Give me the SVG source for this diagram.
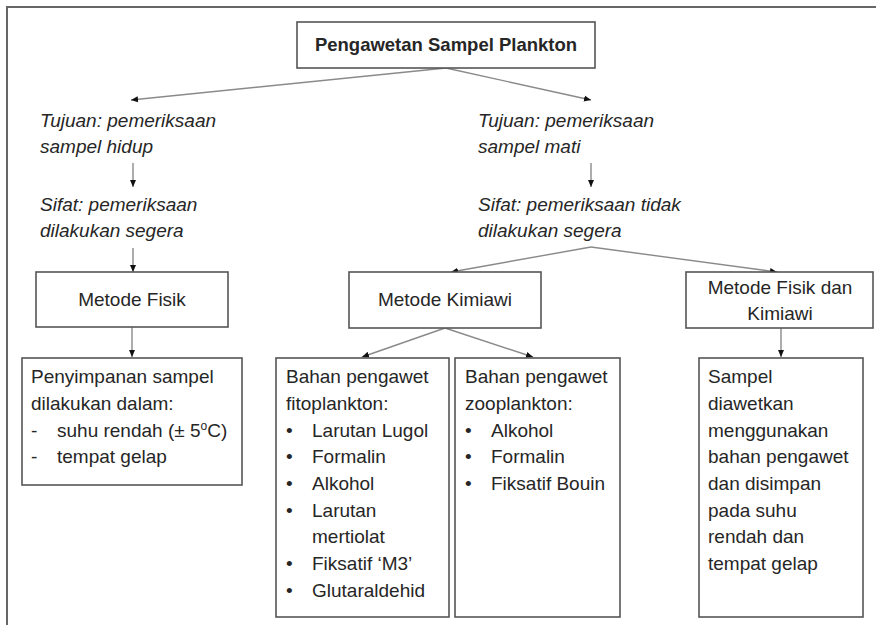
<svg xmlns="http://www.w3.org/2000/svg" width="876" height="625" viewBox="0 0 876 625">
<defs>
<marker id="ah" markerWidth="8" markerHeight="8" refX="7" refY="4" orient="auto" markerUnits="userSpaceOnUse">
<path d="M0,1 L7,4 L0,7 Z" fill="#111"/>
</marker>
<style>
.box{fill:#fff;stroke:#555;stroke-width:1.6}
.t{font-family:"Liberation Sans",Arial,sans-serif;font-size:19px;fill:#262626}
.i{font-style:italic}
.b{font-weight:bold;font-size:18.5px}
.c{text-anchor:middle}
.ln{fill:none;stroke:#8a8a8a;stroke-width:1.4;marker-end:url(#ah)}
</style>
</defs>
<rect width="876" height="625" fill="#fff"/>
<path d="M7,625 V7 H876" fill="none" stroke="#666" stroke-width="2"/>

<g id="connectors">
<line class="ln" x1="446" y1="68" x2="131" y2="100"/>
<line class="ln" x1="446" y1="68" x2="591" y2="100"/>
<line class="ln" x1="133" y1="163" x2="133" y2="187"/>
<line class="ln" x1="133" y1="248" x2="133" y2="272"/>
<line class="ln" x1="591" y1="163" x2="591" y2="187"/>
<line class="ln" x1="591" y1="247" x2="451" y2="272"/>
<line class="ln" x1="591" y1="247" x2="777" y2="272"/>
<line class="ln" x1="132" y1="327" x2="132" y2="357"/>
<line class="ln" x1="445" y1="328" x2="362" y2="357"/>
<line class="ln" x1="445" y1="328" x2="533" y2="357"/>
<line class="ln" x1="781" y1="328" x2="781" y2="357"/>
</g>

<g id="title">
<rect class="box" x="297" y="22" width="298" height="46"/>
<text class="t b c" x="446" y="51">Pengawetan Sampel Plankton</text>
</g>

<g id="tujuan-hidup">
<text class="t i" x="40" y="127">Tujuan: pemeriksaan</text>
<text class="t i" x="40" y="153">sampel hidup</text>
</g>

<g id="sifat-segera">
<text class="t i" x="40" y="211">Sifat: pemeriksaan</text>
<text class="t i" x="40" y="237">dilakukan segera</text>
</g>

<g id="tujuan-mati">
<text class="t i" x="478" y="127">Tujuan: pemeriksaan</text>
<text class="t i" x="478" y="153">sampel mati</text>
</g>

<g id="sifat-tidak-segera">
<text class="t i" x="478" y="211">Sifat: pemeriksaan tidak</text>
<text class="t i" x="478" y="237">dilakukan segera</text>
</g>

<g id="metode-fisik">
<rect class="box" x="36" y="272" width="192" height="55"/>
<text class="t c" x="132" y="306">Metode Fisik</text>
</g>

<g id="metode-kimiawi">
<rect class="box" x="349" y="272" width="192" height="56"/>
<text class="t c" x="445" y="306">Metode Kimiawi</text>
</g>

<g id="metode-fisik-kimiawi">
<rect class="box" x="686" y="272" width="187" height="56"/>
<text class="t c" x="780" y="294">Metode Fisik dan</text>
<text class="t c" x="780" y="320">Kimiawi</text>
</g>

<g id="penyimpanan">
<rect class="box" x="22" y="358" width="220" height="127"/>
<text class="t" x="31" y="383">Penyimpanan sampel</text>
<text class="t" x="31" y="410">dilakukan dalam:</text>
<text class="t" x="31" y="437">-</text>
<text class="t" x="57" y="437">suhu rendah (± 5<tspan font-size="12" dy="-7">o</tspan><tspan dy="7">C)</tspan></text>
<text class="t" x="31" y="463">-</text>
<text class="t" x="57" y="463">tempat gelap</text>
</g>

<g id="fitoplankton">
<rect class="box" x="276" y="358" width="173" height="259"/>
<text class="t" x="286" y="383">Bahan pengawet</text>
<text class="t" x="286" y="410">fitoplankton:</text>
<text class="t" x="286" y="437">•</text><text class="t" x="312" y="437">Larutan Lugol</text>
<text class="t" x="286" y="463">•</text><text class="t" x="312" y="463">Formalin</text>
<text class="t" x="286" y="490">•</text><text class="t" x="312" y="490">Alkohol</text>
<text class="t" x="286" y="517">•</text><text class="t" x="312" y="517">Larutan</text>
<text class="t" x="312" y="543">mertiolat</text>
<text class="t" x="286" y="570">•</text><text class="t" x="312" y="570">Fiksatif ‘M3’</text>
<text class="t" x="286" y="597">•</text><text class="t" x="312" y="597">Glutaraldehid</text>
</g>

<g id="zooplankton">
<rect class="box" x="455" y="358" width="165" height="259"/>
<text class="t" x="465" y="383">Bahan pengawet</text>
<text class="t" x="465" y="410">zooplankton:</text>
<text class="t" x="465" y="437">•</text><text class="t" x="491" y="437">Alkohol</text>
<text class="t" x="465" y="463">•</text><text class="t" x="491" y="463">Formalin</text>
<text class="t" x="465" y="490">•</text><text class="t" x="491" y="490">Fiksatif Bouin</text>
</g>

<g id="sampel-diawetkan">
<rect class="box" x="699" y="358" width="164" height="259"/>
<text class="t" x="708" y="383">Sampel</text>
<text class="t" x="708" y="410">diawetkan</text>
<text class="t" x="708" y="437">menggunakan</text>
<text class="t" x="708" y="463">bahan pengawet</text>
<text class="t" x="708" y="490">dan disimpan</text>
<text class="t" x="708" y="517">pada suhu</text>
<text class="t" x="708" y="543">rendah dan</text>
<text class="t" x="708" y="570">tempat gelap</text>
</g>
</svg>
